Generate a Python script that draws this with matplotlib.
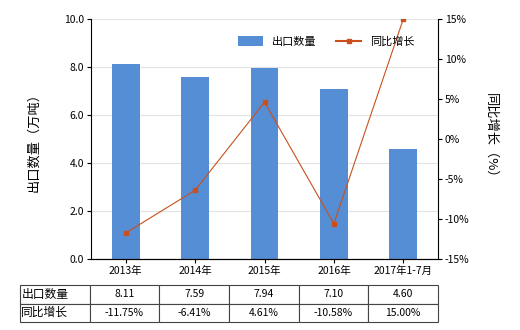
import matplotlib
matplotlib.use("Agg")
import matplotlib.pyplot as plt
from matplotlib.lines import Line2D
from matplotlib.patches import Patch

plt.rcParams['font.family'] = ['Noto Sans CJK SC', 'DejaVu Sans']
plt.rcParams['axes.unicode_minus'] = False

categories = ["2013年", "2014年", "2015年", "2016年", "2017年1-7月"]
export_qty = [8.11, 7.59, 7.94, 7.10, 4.60]
yoy_growth = [-11.75, -6.41, 4.61, -10.58, 15.00]
row_names = ["出口数量", "同比增长"]
qty_labels = ["8.11", "7.59", "7.94", "7.10", "4.60"]
growth_labels = ["-11.75%", "-6.41%", "4.61%", "-10.58%", "15.00%"]

bar_color = "#558ed5"
line_color = "#c9501c"
fs = 7.5

fig = plt.figure(figsize=(5.2, 3.3), dpi=100)
ax = fig.add_axes([91 / 520, 1 - 259 / 330, 347 / 520, 240 / 330])
x = list(range(len(categories)))

ax.bar(x, export_qty, width=0.4, color=bar_color, zorder=2)
ax.set_xlim(-0.5, len(categories) - 0.5)
ax.set_ylim(0, 10)
ax.set_yticks([0, 2, 4, 6, 8, 10])
ax.set_yticklabels([f"{v:.1f}" for v in [0, 2, 4, 6, 8, 10]], fontsize=fs)
ax.set_xticks(x)
ax.set_xticklabels(categories, fontsize=fs)
ax.grid(axis="y", color="#e3e3e3", linewidth=0.8, zorder=0)
ax.set_ylabel("出口数量（万吨）", fontsize=9.5, labelpad=17)
ax.spines["top"].set_visible(False)
ax.spines["right"].set_visible(False)
ax.tick_params(axis="both", length=3, width=0.8, pad=2)

ax2 = ax.twinx()
ax2.plot(x, yoy_growth, color=line_color, linewidth=0.8, marker="s", markersize=3.5, zorder=3)
ax2.set_ylim(-15, 15)
ax2.set_yticks([-15, -10, -5, 0, 5, 10, 15])
ax2.set_yticklabels([f"{v}%" for v in [-15, -10, -5, 0, 5, 10, 15]], fontsize=fs)
ax2.set_ylabel("同比增长（%）", fontsize=9.5, rotation=-90, labelpad=20)
ax2.spines["top"].set_visible(False)
ax2.spines["left"].set_visible(False)
ax2.tick_params(axis="y", length=3, width=0.8, pad=2)

handles = [
    Patch(facecolor=bar_color, label="出口数量"),
    Line2D([0], [0], color=line_color, linewidth=1.5, marker="s", markersize=3.5, label="同比增长"),
]
ax2.legend(handles=handles, loc="upper right", bbox_to_anchor=(0.96, 0.97), ncol=2,
           frameon=False, fontsize=8, handlelength=2.2, handleheight=1.0, columnspacing=1.8)

# data table under the chart, first column holds the row names
tab = fig.add_axes([20 / 520, 1 - 322 / 330, 418 / 520, 37 / 330])
tab.axis("off")
cells = [[row_names[0]] + qty_labels, [row_names[1]] + growth_labels]
table = tab.table(cellText=cells, cellLoc="center", bbox=[0, 0, 1, 1])
table.auto_set_font_size(False)
table.set_fontsize(fs)
for (r, c), cell in table.get_celld().items():
    cell.set_edgecolor("#444444")
    cell.set_linewidth(0.8)
    if c == 0:
        cell.get_text().set_horizontalalignment("left")
        cell.get_text().set_fontsize(8.5)
        cell.PAD = 0.02

fig.savefig("out.png", dpi=100)
